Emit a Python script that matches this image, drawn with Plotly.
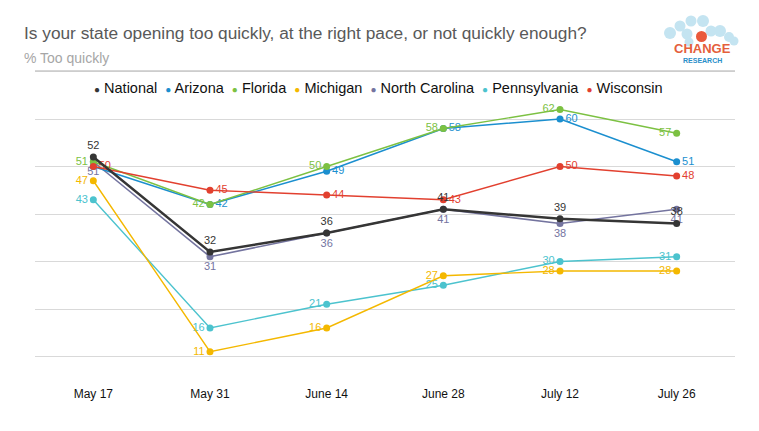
import plotly.graph_objects as go

dates = ["May 17", "May 31", "June 14", "June 28", "July 12", "July 26"]

national = [52, 32, 36, 41, 39, 38]
arizona = [50, 42, 49, 58, 60, 51]
florida = [51, 42, 50, 58, 62, 57]
michigan = [47, 11, 16, 27, 28, 28]
north_carolina = [51, 31, 36, 41, 38, 41]
pennsylvania = [43, 16, 21, 25, 30, 31]
wisconsin = [50, 45, 44, 43, 50, 48]

arizona_labels = ["", "42", "49", "58", "60", "51"]
grid_values = [10, 20, 30, 40, 50, 60, 70]

series = [
    # name, values, color, label position, width, labels
    ("North Carolina", north_carolina, "#74749f", "bottom center", 1.6, None),
    ("Pennsylvania", pennsylvania, "#4cc3ce", "middle left", 1.4, None),
    ("Michigan", michigan, "#f4b800", "middle left", 1.4, None),
    ("Arizona", arizona, "#1b8fcf", "middle right", 1.6, arizona_labels),
    ("Florida", florida, "#7cc142", "middle left", 1.4, None),
    ("Wisconsin", wisconsin, "#e2402f", "middle right", 1.4, None),
    ("National", national, "#353535", "top center", 2.4, None),
]
legend_order = ["National", "Arizona", "Florida", "Michigan", "North Carolina", "Pennsylvania", "Wisconsin"]

fig = go.Figure()
for name, vals, color, pos, width, labels in series:
    fig.add_trace(go.Scatter(
        x=dates, y=vals, name=name, mode="lines+markers+text",
        line=dict(color=color, width=width),
        marker=dict(color=color, size=7),
        text=labels if labels is not None else [str(v) for v in vals],
        textposition=pos,
        textfont=dict(color=color, size=11, family="Liberation Sans, Arial"),
        cliponaxis=False, showlegend=False,
    ))

# legend line built from the series colors
cmap = {s[0]: s[2] for s in series}
leg = "  ".join(
    f"<span style='color:{cmap[n]};font-size:10px'>●</span> {n}" for n in legend_order
)

# plot area pixel geometry (for logo decoration)
L, R, T, B = 35, 24, 62, 65
W, H = 759, 431
pw, ph = W - L - R, H - T - B

def px2paper(x, y):
    return (x - L) / pw, (H - B - y) / ph

shapes = []
# separator rule under the subtitle, level with the 70 grid value
sy = px2paper(0, 71)[1]
shapes.append(dict(type="line", xref="paper", yref="paper", x0=0, x1=1, y0=sy, y1=sy,
                   line=dict(color="#c8c8c8", width=1.5), layer="above"))

bubbles = [(670, 33, 6), (680, 26, 5.5), (687, 34, 5.5), (691, 21, 5.5), (703, 21, 6),
           (711, 31, 5.5), (720, 31, 6), (729, 37, 5), (734, 41, 4.5), (689, 42, 4.5)]
for bx, by, r in bubbles:
    x0, y0 = px2paper(bx - r, by + r)
    x1, y1 = px2paper(bx + r, by - r)
    shapes.append(dict(type="circle", xref="paper", yref="paper", x0=x0, y0=y0, x1=x1, y1=y1,
                       fillcolor="#c4e4f1", line=dict(width=0), layer="below"))
x0, y0 = px2paper(696, 42)
x1, y1 = px2paper(707, 31)
shapes.append(dict(type="circle", xref="paper", yref="paper", x0=x0, y0=y0, x1=x1, y1=y1,
                   fillcolor="#ea5a3c", line=dict(width=0)))

def ann(text, x, y, size, color, xanchor="left", yanchor="middle", family="Liberation Sans, Arial"):
    ax, ay = px2paper(x, y)
    return dict(text=text, x=ax, y=ay, xref="paper", yref="paper", showarrow=False,
                xanchor=xanchor, yanchor=yanchor, font=dict(size=size, color=color, family=family))

annotations = [
    ann("Is your state opening too quickly, at the right pace, or not quickly enough?", 22, 33, 17.3, "#595959"),
    ann("% Too quickly", 22, 58, 14, "#a6a6a6"),
    ann(leg, 378, 88, 14.5, "#111111", xanchor="center"),
    ann("<b>CHANGE</b>", 702, 49, 13, "#e4603c", xanchor="center"),
    ann("<b>RESEARCH</b>", 702, 60, 7, "#2a8fc9", xanchor="center"),
]

fig.update_layout(
    width=W, height=H,
    margin=dict(l=L, r=R, t=T, b=B),
    paper_bgcolor="white", plot_bgcolor="white",
    font=dict(family="Liberation Sans, Arial", color="#222"),
    shapes=shapes, annotations=annotations,
    xaxis=dict(type="category", range=[-0.5, 5.5], showgrid=False, showline=False, zeroline=False,
               ticks="", ticklabelstandoff=19, automargin=False,
               tickfont=dict(family="Liberation Sans Narrow, Arial Narrow, Liberation Sans", size=12, color="#111")),
    yaxis=dict(range=[8, 72], tickvals=grid_values, showticklabels=False,
               showgrid=True, gridcolor="#d9d9d9", gridwidth=1, zeroline=False, showline=False,
               automargin=False),
)

fig.write_html("out.html", post_script="document.body.style.margin='0';",
               config={"displayModeBar": False})
